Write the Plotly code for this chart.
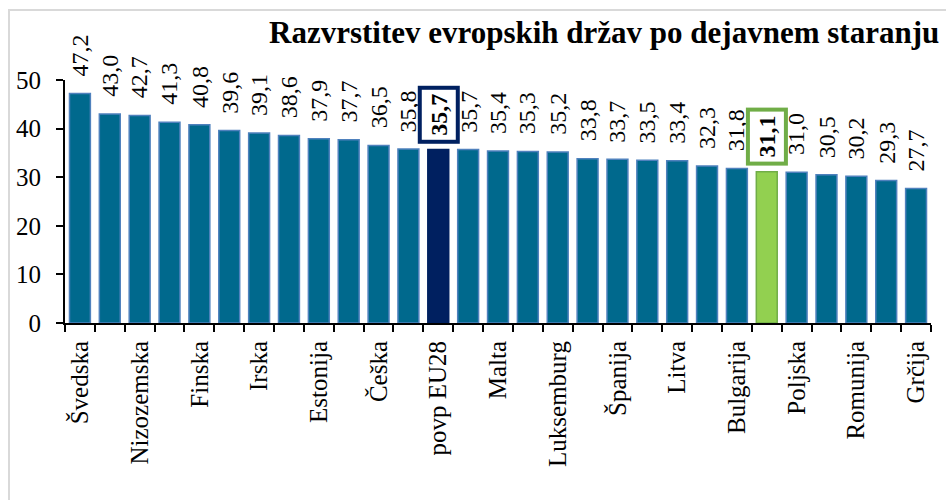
import plotly.graph_objects as go

# ---- data ----
values = [47.2, 43.0, 42.7, 41.3, 40.8, 39.6, 39.1, 38.6, 37.9, 37.7, 36.5, 35.8,
          35.7, 35.7, 35.4, 35.3, 35.2, 33.8, 33.7, 33.5, 33.4, 32.3, 31.8, 31.1,
          31.0, 30.5, 30.2, 29.3, 27.7]
tick_labels = ["Švedska", "", "Nizozemska", "", "Finska", "", "Irska", "", "Estonija", "",
               "Češka", "", "povp EU28", "", "Malta", "", "Luksemburg", "", "Španija", "",
               "Litva", "", "Bulgarija", "", "Poljska", "", "Romunija", "", "Grčija"]
eu_index = 12
si_index = 23
title_text = "Razvrstitev evropskih držav po dejavnem staranju"
y_ticks = [0, 10, 20, 30, 40, 50]

positions = list(range(1, len(values) + 1))

FONT = "Liberation Serif"
TEAL = "#00698D"
TEAL_EDGE = "#4F81BD"
NAVY = "#002060"
GREEN = "#92D050"
GREEN_EDGE = "#70AD47"

PLOT_W = 866
PLOT_H = 243

fill = []
edge = []
for i in range(len(values)):
    if i == eu_index:
        fill.append(NAVY); edge.append(NAVY)
    elif i == si_index:
        fill.append(GREEN); edge.append(GREEN_EDGE)
    else:
        fill.append(TEAL); edge.append(TEAL_EDGE)

fig = go.Figure(go.Bar(
    x=positions, y=values, width=0.7,
    marker=dict(color=fill, line=dict(color=edge, width=1.5)),
    hoverinfo="skip",
))

annotations = []
for i, (p, v) in enumerate(zip(positions, values)):
    label = f"{v:.1f}".replace(".", ",")
    boxed = i in (eu_index, si_index)
    if boxed:
        border = NAVY if i == eu_index else GREEN_EDGE
        annotations.append(dict(
            x=p, y=v, xref="x", yref="y", text=f"<b>{label}</b>", showarrow=False,
            textangle=-90, xanchor="center", yanchor="bottom", yshift=6,
            font=dict(family=FONT, size=24, color="black"),
            bgcolor="white", bordercolor=border, borderwidth=4, borderpad=4,
        ))
    else:
        annotations.append(dict(
            x=p, y=v, xref="x", yref="y", text=label, showarrow=False,
            textangle=-90, xanchor="center", yanchor="bottom", yshift=15,
            font=dict(family=FONT, size=24, color="black"),
        ))

annotations.append(dict(
    text=f"<b>{title_text}</b>", xref="paper", yref="paper",
    x=1 + 10 / PLOT_W, y=(323 - 32) / PLOT_H, xanchor="right", yanchor="middle",
    showarrow=False, font=dict(family=FONT, size=31, color="black"),
))

fig.update_layout(
    width=946, height=500,
    margin=dict(l=65, r=15, t=80, b=177),
    paper_bgcolor="white", plot_bgcolor="white",
    showlegend=False,
    font=dict(family=FONT, color="black"),
    annotations=annotations,
    shapes=[dict(type="rect", xref="paper", yref="paper",
                 x0=-56 / PLOT_W, x1=1.2, y0=-1.0, y1=(323 - 10) / PLOT_H,
                 line=dict(color="#D9D9D9", width=2), fillcolor="rgba(0,0,0,0)",
                 layer="below")],
)

fig.update_xaxes(
    range=[0.5, len(values) + 0.5], tickmode="array", tickvals=positions,
    ticktext=tick_labels, tickangle=-90, ticks="", showgrid=False, zeroline=False,
    showline=True, linecolor="black", linewidth=2,
    tickfont=dict(family=FONT, size=25, color="black"), ticklabelstandoff=6,
    minor=dict(tickmode="linear", tick0=0.5, dtick=1, ticks="outside", ticklen=7,
               tickwidth=2, tickcolor="black", showgrid=False),
)
fig.update_yaxes(
    range=[0, 50], tickmode="array", tickvals=y_ticks, ticks="outside", ticklen=7,
    tickwidth=2, tickcolor="black", showline=True, linecolor="black", linewidth=2,
    showgrid=False, zeroline=False, ticklabelstandoff=10,
    tickfont=dict(family=FONT, size=25, color="black"),
)

fig.write_html("out.html", config={"displayModeBar": False},
               post_script="document.body.style.margin='0';")
